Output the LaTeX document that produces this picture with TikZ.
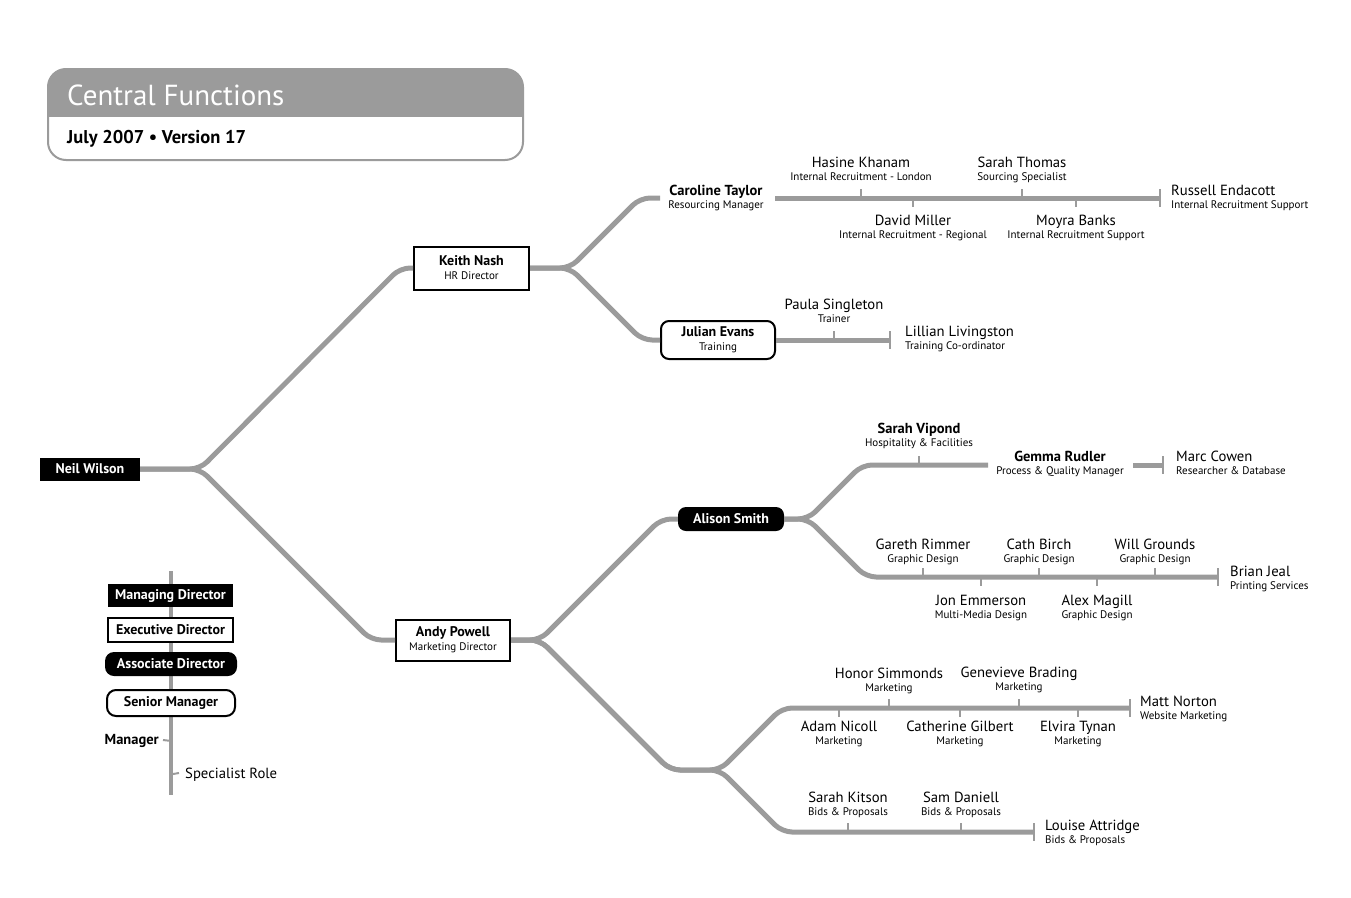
\documentclass[tikz,border=0pt]{standalone}
\usepackage{fontspec}
\setmainfont{PT Sans}
\usetikzlibrary{calc}
\definecolor{lgray}{RGB}{155,155,155}
\newcommand{\pers}[7]{%
  \node[#6, anchor=#7] (#1) at (#2,#3) {#4};
  \node[rl, anchor=#7] (#1r) at (#2,#3+15) {#5};}
\begin{document}
\begin{tikzpicture}[x=1pt,y=-1pt,
  conn/.style={draw=lgray, line width=5pt, rounded corners=10pt},
  tickln/.style={draw=lgray, line width=2pt},
  endbar/.style={draw=lgray, line width=2.5pt},
  legline/.style={draw=lgray, line width=4pt},
  nm/.style={font=\fontsize{14.7}{16}\selectfont, inner sep=0pt, yshift=-5.1pt},
  bnm/.style={font=\bfseries\fontsize{14.5}{16}\selectfont, inner sep=0pt, yshift=-5.1pt},
  rl/.style={font=\fontsize{11}{12}\selectfont, inner sep=0pt, yshift=-3.9pt},
  blackbox/.style={fill=black, text=white, font=\bfseries\fontsize{14}{15}\selectfont, inner sep=0pt},
  whitebox/.style={fill=white, draw=black, line width=2pt, font=\fontsize{14}{14}\selectfont, inner sep=0pt, align=center},
  legwhite/.style={fill=white, draw=black, line width=2pt, font=\bfseries\fontsize{14}{15}\selectfont, inner sep=0pt}
]
\useasboundingbox (0,0) rectangle (1351,897);

% ---- title block
\begin{scope}
  \clip[rounded corners=18pt] (48,69) rectangle (523,160);
  \fill[lgray] (48,69) rectangle (523,117);
\end{scope}
\draw[lgray, line width=2pt, rounded corners=18pt] (48,69) rectangle (523,160);
\node[anchor=base west, text=white, font=\fontsize{29}{31}\selectfont, inner sep=0pt] (title) at (67,105) {Central Functions};
\node[anchor=base west, font=\bfseries\fontsize{18.5}{20}\selectfont, inner sep=0pt] (ver) at (67,143.5) {July 2007 \textbullet{} Version 17};

% ---- main nodes
\node[blackbox, minimum width=100pt, minimum height=23pt] (nw) at (90,469) {Neil Wilson};
\node[whitebox, minimum width=115pt, minimum height=43pt] (kn) at (471.5,268) {{\bfseries Keith Nash}\\{\fontsize{11}{14}\selectfont HR Director}};
\node[whitebox, minimum width=114pt, minimum height=41pt] (ap) at (453,640) {{\bfseries Andy Powell}\\{\fontsize{11}{14}\selectfont Marketing Director}};
\node[whitebox, rounded corners=8pt, minimum width=114pt, minimum height=38pt] (je) at (718,340) {{\bfseries Julian Evans}\\{\fontsize{11}{14}\selectfont Training}};
\node[blackbox, rounded corners=8pt, minimum width=106pt, minimum height=24pt] (al) at (731,519) {Alison Smith};
\pers{ct}{716}{190}{Caroline Taylor}{Resourcing Manager}{bnm}{base}

% ---- coordinates
\coordinate (ctin) at (660,198);
\coordinate (ctout) at (775,198);
\coordinate (reb) at (1160,198);
\coordinate (llb) at (890,340);
\coordinate (svend) at (988,465);
\coordinate (grout) at (1133,465);
\coordinate (mcb) at (1163,465);
\coordinate (bjb) at (1218,577);
\coordinate (mnb) at (1130,708);
\coordinate (lab) at (1034,832);

% ---- connectors
\draw[conn] (nw.east) -- (200,469) -- (400,268) -- (kn.west);
\draw[conn] (nw.east) -- (200,469) -- (371,640) -- (ap.west);
\draw[conn] (kn.east) -- (570,268) -- (640,198) -- (ctin);
\draw[conn] (kn.east) -- (570,268) -- (642,340) -- (je.west);
\draw[conn] (ctout) -- (reb);
\draw[conn] (je.east) -- (llb);
\draw[conn] (ap.east) -- (540,640) -- (661,519) -- (al.west);
\draw[conn] (ap.east) -- (540,640) -- (670,770) -- (720,770) -- (782,708) -- (mnb);
\draw[conn] (ap.east) -- (540,640) -- (670,770) -- (720,770) -- (782,832) -- (lab);
\draw[conn] (al.east) -- (808,519) -- (862,465) -- (svend);
\draw[conn] (grout) -- (mcb);
\draw[conn] (al.east) -- (808,519) -- (866,577) -- (bjb);

% ---- end bars
\foreach \c in {reb,llb,mcb,bjb,mnb,lab}
  \draw[endbar] ($(\c)+(0,-9)$) -- ($(\c)+(0,9)$);

% ---- Caroline group
\pers{hk}{861}{162}{Hasine Khanam}{Internal Recruitment - London}{nm}{base}
\pers{dm}{913}{220}{David Miller}{Internal Recruitment - Regional}{nm}{base}
\pers{st}{1022}{162}{Sarah Thomas}{Sourcing Specialist}{nm}{base}
\pers{mb}{1076}{220}{Moyra Banks}{Internal Recruitment Support}{nm}{base}
\pers{re}{1171}{190}{Russell Endacott}{Internal Recruitment Support}{nm}{base west}
\draw[tickln] (hk |- reb) -- ++(0,-9);
\draw[tickln] (st |- reb) -- ++(0,-9);
\draw[tickln] (dm |- reb) -- ++(0,9);
\draw[tickln] (mb |- reb) -- ++(0,9);

% ---- Julian group
\pers{ps}{834}{304}{Paula Singleton}{Trainer}{nm}{base}
\pers{ll}{905}{331}{Lillian Livingston}{Training Co-ordinator}{nm}{base west}
\draw[tickln] (ps |- llb) -- ++(0,-9);

% ---- Alison upper group
\pers{sv}{919}{428}{Sarah Vipond}{Hospitality \& Facilities}{bnm}{base}
\pers{gr}{1060}{456}{Gemma Rudler}{Process \& Quality Manager}{bnm}{base}
\pers{mc}{1176}{456}{Marc Cowen}{Researcher \& Database}{nm}{base west}
\draw[tickln] (sv |- svend) -- ++(0,-9);

% ---- design group
\pers{gri}{923}{544}{Gareth Rimmer}{Graphic Design}{nm}{base}
\pers{jem}{981}{600}{Jon Emmerson}{Multi-Media Design}{nm}{base}
\pers{cb}{1039}{544}{Cath Birch}{Graphic Design}{nm}{base}
\pers{am}{1097}{600}{Alex Magill}{Graphic Design}{nm}{base}
\pers{wg}{1155}{544}{Will Grounds}{Graphic Design}{nm}{base}
\pers{bj}{1230}{571}{Brian Jeal}{Printing Services}{nm}{base west}
\draw[tickln] (gri |- bjb) -- ++(0,-9);
\draw[tickln] (cb |- bjb) -- ++(0,-9);
\draw[tickln] (wg |- bjb) -- ++(0,-9);
\draw[tickln] (jem |- bjb) -- ++(0,9);
\draw[tickln] (am |- bjb) -- ++(0,9);

% ---- marketing group
\pers{an}{839}{726}{Adam Nicoll}{Marketing}{nm}{base}
\pers{hs}{889}{673}{Honor Simmonds}{Marketing}{nm}{base}
\pers{cg}{960}{726}{Catherine Gilbert}{Marketing}{nm}{base}
\pers{gb}{1019}{672}{Genevieve Brading}{Marketing}{nm}{base}
\pers{et}{1078}{726}{Elvira Tynan}{Marketing}{nm}{base}
\pers{mn}{1140}{701}{Matt Norton}{Website Marketing}{nm}{base west}
\draw[tickln] (hs |- mnb) -- ++(0,-9);
\draw[tickln] (gb |- mnb) -- ++(0,-9);
\draw[tickln] (an |- mnb) -- ++(0,9);
\draw[tickln] (cg |- mnb) -- ++(0,9);
\draw[tickln] (et |- mnb) -- ++(0,9);

% ---- bids group
\pers{sk}{848}{797}{Sarah Kitson}{Bids \& Proposals}{nm}{base}
\pers{sd}{961}{797}{Sam Daniell}{Bids \& Proposals}{nm}{base}
\pers{la}{1045}{825}{Louise Attridge}{Bids \& Proposals}{nm}{base west}
\draw[tickln] (sk |- lab) -- ++(0,-9);
\draw[tickln] (sd |- lab) -- ++(0,-9);

% ---- legend
\coordinate (lgtop) at (171,571);
\coordinate (lgbot) at (171,795);
\draw[legline] (lgtop) -- (lgbot);
\node[blackbox, minimum width=125pt, minimum height=23pt] (md) at (170.5,595.5) {Managing Director};
\node[legwhite, minimum width=125pt, minimum height=24pt] (ed) at (170.5,630) {Executive Director};
\node[blackbox, rounded corners=9pt, minimum width=132pt, minimum height=24pt] (ad) at (171,664) {Associate Director};
\node[legwhite, rounded corners=9pt, minimum width=128pt, minimum height=26pt] (sm) at (171,703) {Senior Manager};
\node[font=\bfseries\fontsize{14.5}{16}\selectfont, inner sep=0pt, anchor=base east] (mgr) at (159,744.5) {Manager};
\node[nm, anchor=base west] (spec) at (185,773) {Specialist Role};
\draw[tickln] (163,740) -- (lgtop |- mgr);
\draw[tickln] (lgtop |- spec) -- (179,773);
\end{tikzpicture}
\end{document}
